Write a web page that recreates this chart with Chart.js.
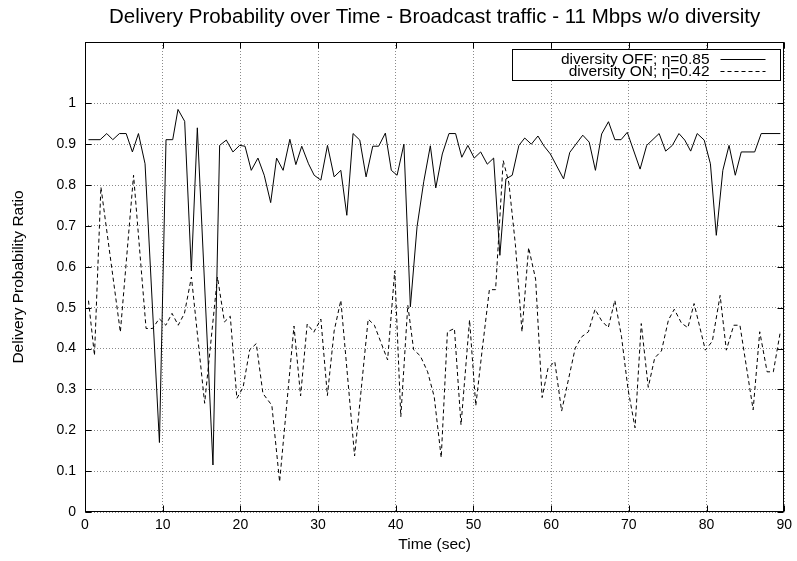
<!DOCTYPE html>
<html>
<head>
<meta charset="utf-8">
<title>Delivery Probability over Time</title>
<script src="https://cdn.jsdelivr.net/npm/chart.js@4.4.1/dist/chart.umd.min.js"></script>
<style>
  html, body { margin: 0; padding: 0; background: #fff; }
</style>
</head>
<body>
<canvas id="delivery" width="797" height="561"></canvas>
<script>
// diversity OFF (solid line)
const offTime = [0.45, 1.95, 2.8, 3.58, 4.43, 5.3, 6.1, 6.88, 7.73, 9.58, 10.43, 11.29, 11.97, 12.83, 13.69, 14.46,
  16.47, 17.33, 18.19, 19.04, 19.9, 20.6, 21.4, 22.26, 23.07, 23.9, 24.66, 25.5, 26.37, 27.14, 27.9, 28.77, 29.5,
  30.36, 31.21, 32.07, 32.93, 33.7, 34.5, 35.37, 36.18, 37.04, 37.8, 38.66, 39.43, 40.17, 41.05, 41.88, 42.74,
  43.6, 44.45, 45.15, 45.99, 46.85, 47.7, 48.5, 49.28, 50.1, 50.93, 51.78, 52.6, 53.4, 54.18, 54.99, 55.85, 56.6,
  57.45, 58.3, 59.1, 59.9, 61.6, 62.4, 64.07, 64.9, 65.7, 66.5, 67.38, 68.2, 69.0, 69.8, 71.45, 72.3, 73.9, 74.74,
  75.6, 76.45, 77.2, 77.96, 78.8, 79.7, 80.5, 81.26, 82.1, 82.9, 83.7, 84.47, 86.2, 87.04, 89.5];
const offRatio = [0.911, 0.911, 0.926, 0.911, 0.926, 0.926, 0.881, 0.926, 0.852, 0.17, 0.911, 0.911, 0.985, 0.956, 0.59, 0.94,
  0.115, 0.897, 0.91, 0.881, 0.897, 0.895, 0.836, 0.866, 0.824, 0.757, 0.866, 0.836, 0.912, 0.85, 0.895, 0.852, 0.824,
  0.812, 0.897, 0.82, 0.836, 0.726, 0.926, 0.91, 0.82, 0.895, 0.895, 0.927, 0.836, 0.824, 0.9, 0.502, 0.698,
  0.808, 0.896, 0.793, 0.876, 0.926, 0.926, 0.868, 0.897, 0.866, 0.881, 0.851, 0.866, 0.628, 0.815, 0.824, 0.897, 0.915,
  0.9, 0.92, 0.895, 0.876, 0.815, 0.88, 0.922, 0.905, 0.836, 0.925, 0.955, 0.911, 0.911, 0.929, 0.839, 0.897, 0.926, 0.883,
  0.897, 0.926, 0.91, 0.883, 0.926, 0.91, 0.852, 0.677, 0.836, 0.897, 0.824, 0.881, 0.881, 0.926, 0.926];

// diversity ON (dashed line)
const onTime = [0.45, 1.22, 2.05, 4.55, 6.25, 7.86, 8.7, 9.55, 10.4, 11.2, 12.0, 12.8, 13.7, 15.4, 17.05, 17.95,
  18.7, 19.55, 20.35, 21.2, 22.05, 22.9, 24.05, 25.05, 26.9, 27.75, 28.6, 29.45, 30.36, 31.2, 32.07, 32.93, 34.7,
  36.45, 37.25, 38.95, 39.87, 40.65, 41.55, 42.3, 43.16, 44.1, 44.95, 45.85, 46.65, 47.55, 48.4, 49.5, 50.3, 51.12,
  52.05, 52.85, 53.83, 54.56, 55.4, 56.25, 57.1, 58.0, 58.84, 59.6, 60.47, 61.35, 63.1, 63.95, 64.8, 65.65, 66.5,
  67.35, 68.2, 69.05, 69.9, 70.8, 71.6, 72.5, 73.33, 74.2, 75.1, 75.85, 76.78, 77.6, 78.4, 79.85, 80.75, 81.75,
  82.55, 83.5, 84.3, 86.0, 86.85, 87.8, 88.6, 89.5];
const onRatio = [0.517, 0.383, 0.795, 0.44, 0.824, 0.449, 0.449, 0.473, 0.457, 0.486, 0.457, 0.486, 0.575, 0.266, 0.575, 0.465,
  0.479, 0.278, 0.305, 0.397, 0.412, 0.29, 0.261, 0.074, 0.455, 0.284, 0.46, 0.44, 0.472, 0.285, 0.443, 0.518, 0.137,
  0.472, 0.457, 0.372, 0.59, 0.233, 0.506, 0.397, 0.382, 0.343, 0.282, 0.133, 0.441, 0.449, 0.213, 0.47, 0.26, 0.396,
  0.544, 0.544, 0.86, 0.805, 0.654, 0.441, 0.647, 0.57, 0.28, 0.352, 0.368, 0.247, 0.401, 0.429, 0.441, 0.496, 0.468,
  0.451, 0.518, 0.43, 0.3, 0.206, 0.461, 0.305, 0.377, 0.394, 0.47, 0.496, 0.462, 0.451, 0.51, 0.396, 0.418, 0.53,
  0.396, 0.457, 0.457, 0.25, 0.441, 0.343, 0.343, 0.441];

const yTicks = [0, 0.1, 0.2, 0.3, 0.4, 0.5, 0.6, 0.7, 0.8, 0.9, 1];
const seriesNames = ['diversity OFF; \u03b7=0.85', 'diversity ON; \u03b7=0.42'];
const chartTitle = 'Delivery Probability over Time - Broadcast traffic - 11 Mbps w/o diversity';

const pairs = (xs, ys) => xs.map((x, i) => ({ x: x, y: ys[i] }));

Chart.defaults.font.family = "'Liberation Sans', Arial, Helvetica, sans-serif";
Chart.defaults.color = '#000';

// gnuplot-style frame with inward tick marks on all four sides
const framePlugin = {
  id: 'frame',
  afterDatasetsDraw(chart) {
    const { ctx, chartArea: a, scales } = chart;
    const L = Math.round(a.left) + 0.5, R = Math.round(a.right) - 0.5;
    const T = Math.round(a.top) + 0.5, B = Math.round(a.bottom) - 0.5;
    ctx.save();
    ctx.strokeStyle = '#000';
    ctx.lineWidth = 1;
    ctx.beginPath();
    scales.x.ticks.forEach(t => {
      const px = Math.round(scales.x.getPixelForValue(t.value)) + 0.5;
      ctx.moveTo(px, B); ctx.lineTo(px, B - 6);
      ctx.moveTo(px, T); ctx.lineTo(px, T + 6);
    });
    scales.y.ticks.forEach(t => {
      const py = Math.round(scales.y.getPixelForValue(t.value)) + 0.5;
      ctx.moveTo(L, py); ctx.lineTo(L + 6, py);
      ctx.moveTo(R, py); ctx.lineTo(R - 6, py);
    });
    ctx.stroke();
    ctx.strokeRect(L, T, R - L, B - T);
    ctx.restore();
  }
};

// key box in the top right corner, text left of the line sample
const keyPlugin = {
  id: 'key',
  afterDraw(chart) {
    const { ctx, chartArea: a } = chart;
    const right = Math.round(a.right) - 3.5, top = Math.round(a.top) + 7.5;
    const w = 268, h = 31;
    ctx.save();
    ctx.fillStyle = '#fff';
    ctx.fillRect(right - w, top, w, h);
    ctx.strokeStyle = '#000';
    ctx.lineWidth = 1;
    ctx.strokeRect(right - w, top, w, h);
    ctx.font = "15.5px 'Liberation Sans', Arial, sans-serif";
    ctx.textAlign = 'right';
    ctx.textBaseline = 'middle';
    chart.data.datasets.forEach((ds, i) => {
      const y = top + 9 + i * 12.5;
      ctx.fillStyle = '#000';
      ctx.fillText(ds.label, right - 71, y + 1);
      ctx.beginPath();
      ctx.setLineDash(ds.borderDash || []);
      ctx.moveTo(right - 60, Math.round(y) + 0.5);
      ctx.lineTo(right - 15, Math.round(y) + 0.5);
      ctx.stroke();
    });
    ctx.restore();
  }
};

new Chart(document.getElementById('delivery'), {
  type: 'line',
  data: {
    datasets: [{
      label: seriesNames[0],
      data: pairs(offTime, offRatio),
      borderColor: '#000',
      borderWidth: 1,
      pointRadius: 0,
      tension: 0
    }, {
      label: seriesNames[1],
      data: pairs(onTime, onRatio),
      borderColor: '#000',
      borderWidth: 1,
      borderDash: [4, 3],
      pointRadius: 0,
      tension: 0
    }]
  },
  options: {
    responsive: false,
    animation: false,
    layout: { padding: { top: 0, right: 11, bottom: 0, left: 0 } },
    plugins: {
      legend: { display: false },
      tooltip: { enabled: false },
      title: { display: false }
    },
    scales: {
      x: {
        type: 'linear',
        min: 0,
        max: 90,
        afterFit: (s) => { s.height = 49; },
        ticks: { stepSize: 10, padding: 5, font: { size: 14 }, maxRotation: 0 },
        grid: { color: '#8a8a8a', drawTicks: false },
        border: { display: false, dash: [1, 2] },
        title: { display: true, text: 'Time (sec)', font: { size: 15.5 }, padding: { bottom: 7 } }
      },
      // top axis only carries the plot title, centred over the plot area
      top: {
        type: 'linear',
        position: 'top',
        min: 0,
        max: 90,
        afterFit: (s) => { s.height = 42; },
        ticks: { display: false },
        grid: { display: false },
        border: { display: false },
        title: { display: true, text: chartTitle, font: { size: 20.5 }, padding: { top: 5 } }
      },
      y: {
        min: 0,
        max: 1.15,
        afterFit: (s) => { s.width = 85; },
        afterBuildTicks: (s) => { s.ticks = yTicks.map(v => ({ value: v })); },
        ticks: { padding: 9, font: { size: 14 }, callback: (v) => String(v) },
        grid: { color: '#8a8a8a', drawTicks: false },
        border: { display: false, dash: [1, 2] },
        title: { display: true, text: 'Delivery Probability Ratio', font: { size: 15.5 }, padding: { top: 9 } }
      }
    }
  },
  plugins: [framePlugin, keyPlugin]
});
</script>
</body>
</html>
